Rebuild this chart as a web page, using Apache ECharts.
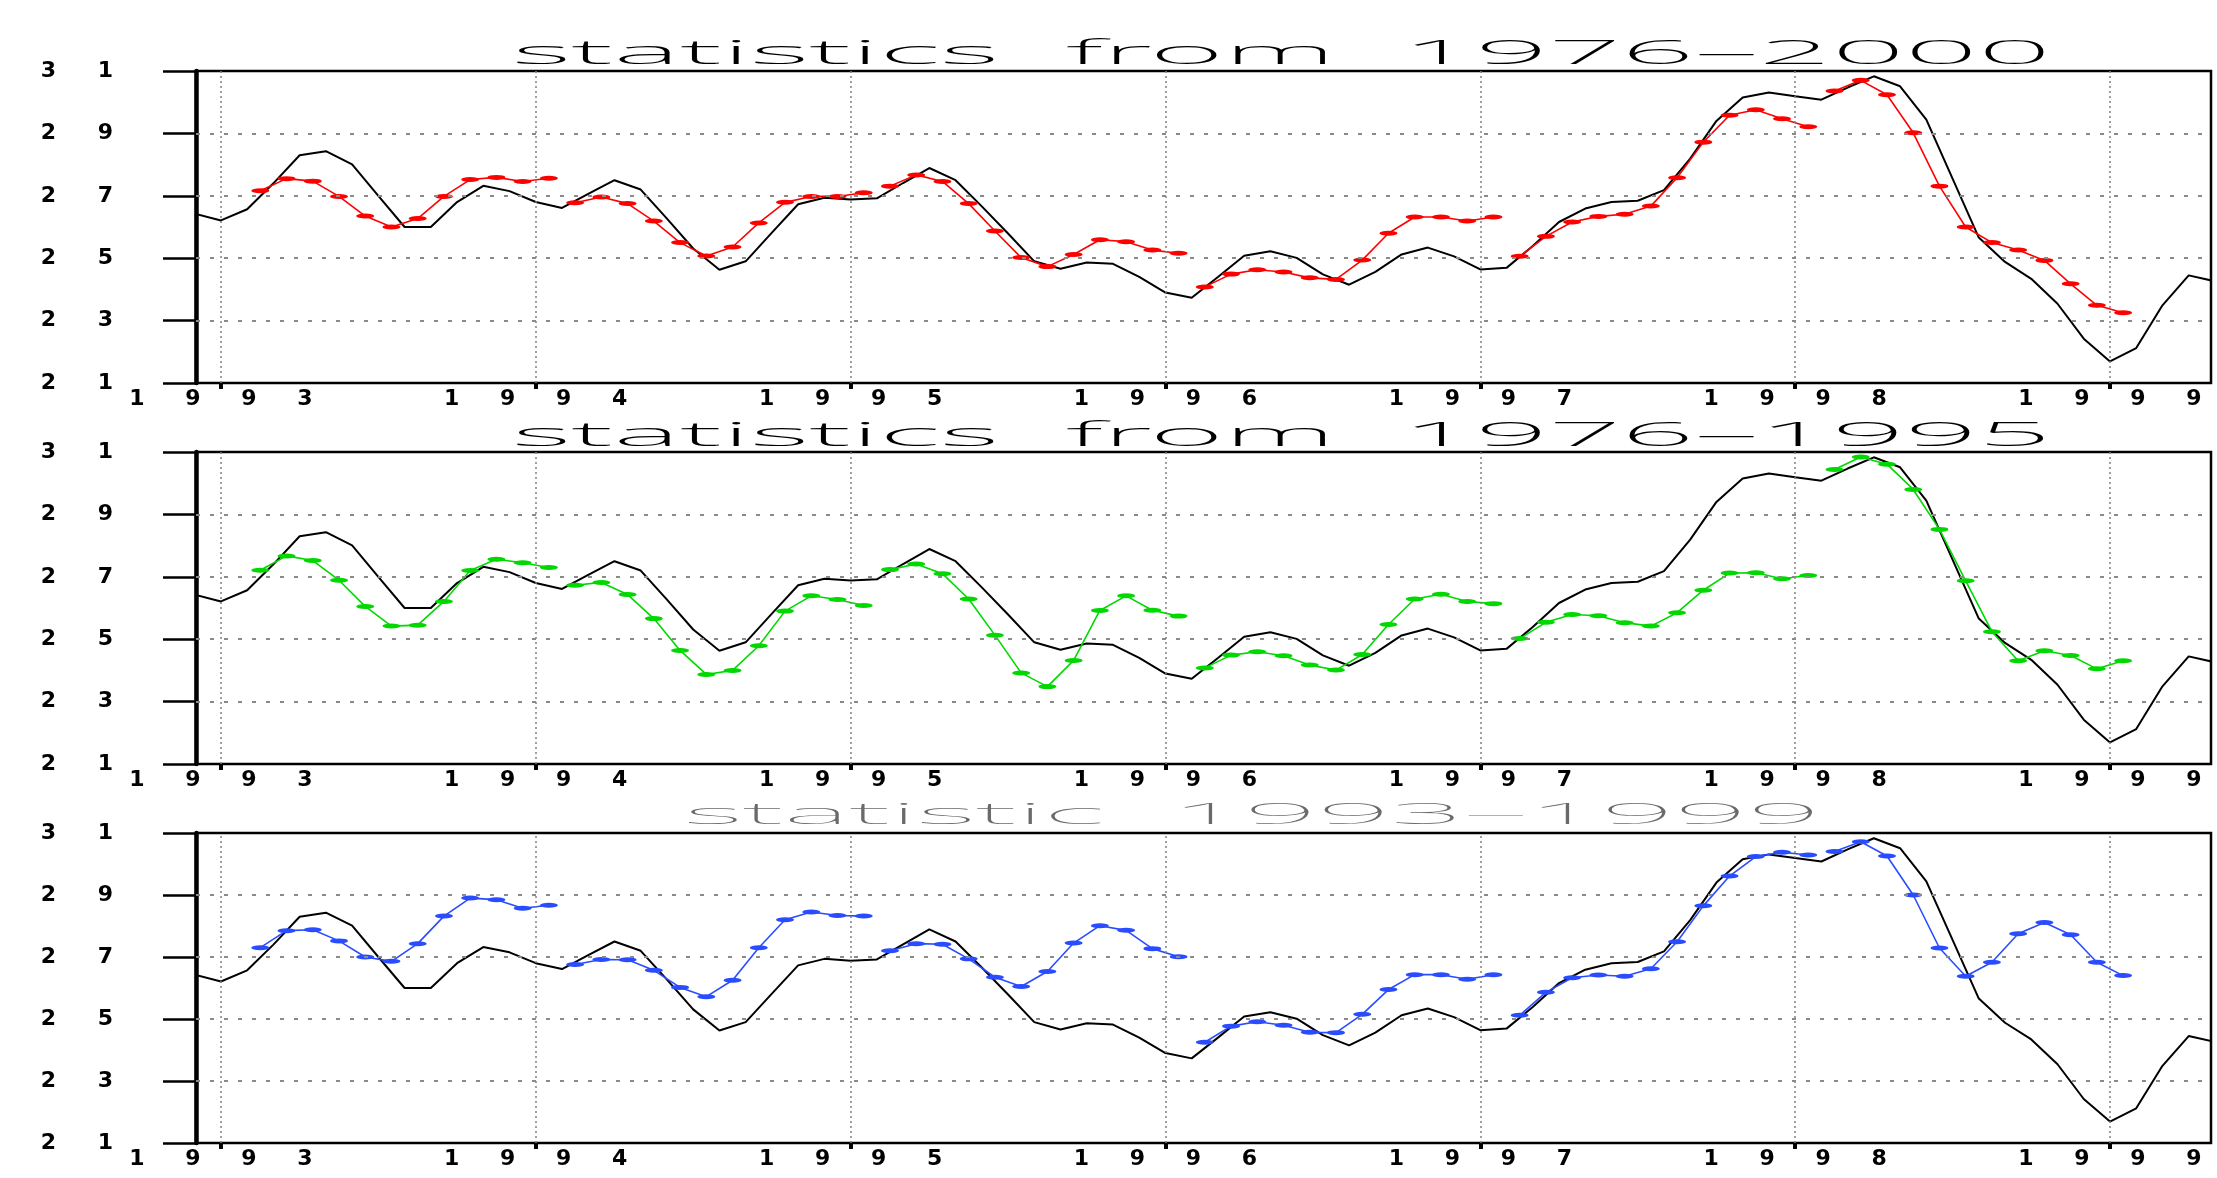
<!DOCTYPE html>
<html><head><meta charset="utf-8">
<script src="https://cdn.jsdelivr.net/npm/echarts@6/dist/echarts.min.js"></script>
<style>html,body{margin:0;padding:0;background:#fff}#c{width:2217px;height:1178px}</style>
</head><body><div id="c"></div>
<script>
// ---- data ----
const obsStart = -1; // month index of first observed value (Dec 1992); 0 = Jan 1993
const observed = [26.43,
  26.21,26.57,27.40,28.30,28.43,28.01,27.00,26.00,26.00,26.80,27.32,27.15,
  26.80,26.61,27.06,27.50,27.20,26.27,25.31,24.63,24.90,25.82,26.73,26.94,
  26.88,26.92,27.41,27.89,27.50,26.66,25.79,24.90,24.66,24.86,24.82,24.40,
  23.90,23.73,24.40,25.08,25.22,25.01,24.48,24.15,24.56,25.12,25.34,25.06,
  24.64,24.69,25.39,26.16,26.59,26.80,26.84,27.18,28.19,29.40,30.15,30.31,
  30.19,30.08,30.47,30.83,30.51,29.44,27.55,25.66,24.88,24.34,23.54,22.42,
  21.69,22.12,23.49,24.45,24.26];
const fcStart = 1.5;     // first forecast month position (mid Feb 1993)
const fcSegLen = 12;     // each forecast run has 12 monthly values
const fc1976_2000 = [
  27.16,27.55,27.47,26.98,26.35,26.00,26.27,26.98,27.52,27.59,27.46,27.56,
  26.78,26.96,26.75,26.19,25.50,25.07,25.36,26.13,26.79,26.98,26.98,27.10,
  27.31,27.67,27.46,26.75,25.87,25.02,24.73,25.12,25.59,25.53,25.26,25.16,
  24.08,24.49,24.63,24.56,24.37,24.32,24.94,25.80,26.32,26.32,26.19,26.32,
  25.06,25.70,26.16,26.34,26.41,26.67,27.58,28.72,29.58,29.76,29.47,29.21,
  30.36,30.70,30.24,29.02,27.31,26.00,25.50,25.26,24.93,24.18,23.49,23.25];
const fc1976_1995 = [
  27.21,27.67,27.52,26.89,26.05,25.42,25.45,26.21,27.20,27.56,27.45,27.30,
  26.73,26.82,26.43,25.66,24.64,23.87,24.00,24.79,25.90,26.39,26.27,26.08,
  27.23,27.41,27.10,26.29,25.13,23.92,23.48,24.32,25.92,26.39,25.93,25.74,
  24.08,24.49,24.60,24.47,24.17,24.01,24.51,25.47,26.29,26.44,26.21,26.14,
  25.02,25.54,25.79,25.75,25.53,25.42,25.85,26.57,27.12,27.13,26.94,27.04,
  30.44,30.84,30.61,29.80,28.52,26.87,25.24,24.31,24.63,24.48,24.05,24.31];
const fc1993_1999 = [
  27.30,27.85,27.88,27.52,27.00,26.86,27.43,28.32,28.90,28.85,28.57,28.67,
  26.76,26.92,26.91,26.57,26.02,25.72,26.25,27.30,28.20,28.45,28.34,28.32,
  27.20,27.43,27.41,26.94,26.35,26.05,26.53,27.45,28.01,27.86,27.27,27.01,
  24.25,24.77,24.91,24.80,24.57,24.56,25.15,25.95,26.43,26.43,26.28,26.43,
  25.12,25.86,26.33,26.42,26.38,26.62,27.49,28.65,29.61,30.24,30.38,30.29,
  30.40,30.72,30.26,29.00,27.29,26.38,26.83,27.75,28.11,27.72,26.83,26.40];
const yearTicks = [0,12,24,36,48,60,72];
const yearLabels = ['1993','1994','1995','1996','1997','1998','1999'];
const yTicks = [21,23,25,27,29,31];
const yGridLines = [23,25,27,29];
const titles = ['statistics  from  1976\u20132000','statistics  from  1976\u20131995','statistic  1993\u20131999'];
const fcColors = ['#ff0000','#00d800','#2a4cff'];

// ---- layout / style ----
const panels = [
  {top:71, height:312, tLeft:512, tWidth:1539, tMid:55,  tFont:'200 33px "Noto Sans", "DejaVu Sans", sans-serif', tColor:'#000'},
  {top:452,height:312, tLeft:512, tWidth:1539, tMid:437, tFont:'200 33px "Noto Sans", "DejaVu Sans", sans-serif', tColor:'#000'},
  {top:833,height:310, tLeft:684, tWidth:1137, tMid:816, tFont:'100 29px "Noto Sans", "DejaVu Sans", sans-serif', tColor:'#6a6a6a'}
];
const fcSeries = [fc1976_2000, fc1976_1995, fc1993_1999];
const X_MIN = -0.95, X_MAX = 75.85;

const spaced = s => String(s).split('').map(c => '{d|' + c + '}').join('');
const labelRich = w => ({ d: { width: w, align: 'center', fontSize: 22, fontWeight: 'bold',
  fontFamily: '"DejaVu Sans", sans-serif', color: '#000', lineHeight: 22 } });

function fcData(vals){
  const out = [];
  vals.forEach((v,k) => {
    if (k > 0 && k % fcSegLen === 0) out.push([fcStart + k - 0.5, '-']);
    out.push([fcStart + k, v]);
  });
  return out;
}
const obsData = observed.map((v,i) => [obsStart + i, v]);

const mctx = document.createElement('canvas').getContext('2d');
function fitScale(text, font, width){ mctx.font = font; return width / mctx.measureText(text).width; }

const grids = [], xAxes = [], yAxes = [], series = [], graphics = [];
panels.forEach((p, i) => {
  grids.push({ left:196, width:2015, top:p.top, height:p.height, show:true,
    borderColor:'#000', borderWidth:2.5, backgroundColor:'transparent', containLabel:false, outerBoundsMode:'none' });
  xAxes.push({ type:'value', gridIndex:i, min:X_MIN, max:X_MAX,
    axisLine:{ show:true, onZero:false, lineStyle:{ color:'#000', width:2 } },
    axisTick:{ show:true, inside:false, length:6, customValues: yearTicks, lineStyle:{ color:'#000', width:4 } },
    axisLabel:{ show:true, customValues: yearTicks, margin:5,
      formatter: v => spaced(yearLabels[yearTicks.indexOf(Math.round(v))] || ''), rich: labelRich(56) },
    splitLine:{ show:false } });
  yAxes.push({ type:'value', gridIndex:i, min:21, max:31,
    axisLine:{ show:true, onZero:false, lineStyle:{ color:'#000', width:4.5 } },
    axisTick:{ show:true, inside:false, length:33, customValues: yTicks, lineStyle:{ color:'#000', width:2.5 } },
    axisLabel:{ show:true, customValues: yTicks, margin:62, formatter: v => spaced(v), rich: labelRich(57) },
    splitLine:{ show:false } });
  series.push({ type:'line', name:'observed', xAxisIndex:i, yAxisIndex:i, data: obsData,
    showSymbol:false, symbol:'none', lineStyle:{ color:'#000', width:2 }, z:3, animation:false,
    markLine:{ silent:true, symbol:['none','none'], label:{show:false}, animation:false,
      data: [
        ...yearTicks.map(x => ({ xAxis:x, lineStyle:{ type:[2,3], color:'#808080', width:1.5 } })),
        ...yGridLines.map(y => ({ yAxis:y, lineStyle:{ type:[4,10], color:'#8a8a8a', width:2 } }))
      ] } });
  series.push({ type:'line', name:titles[i], xAxisIndex:i, yAxisIndex:i, data: fcData(fcSeries[i]),
    connectNulls:false, showSymbol:true,
    symbol:'path://M0,5 A10,5 0 1 1 20,5 A10,5 0 1 1 0,5 Z', symbolSize:[18,5],
    itemStyle:{ color: fcColors[i] }, lineStyle:{ color: fcColors[i], width:1.6 }, z:4, animation:false });
  graphics.push({ type:'text', x:p.tLeft, y:p.tMid, scaleX: fitScale(titles[i], p.tFont, p.tWidth), originX:0, silent:true,
    style:{ text:titles[i], font:p.tFont, fill:p.tColor, align:'left', verticalAlign:'middle',
      textAlign:'left', textVerticalAlign:'middle' } });
});

const chart = echarts.init(document.getElementById('c'), null, { renderer:'canvas' });
chart.setOption({ animation:false, backgroundColor:'#fff', grid:grids, xAxis:xAxes, yAxis:yAxes, series:series, graphic:graphics });
</script></body></html>
